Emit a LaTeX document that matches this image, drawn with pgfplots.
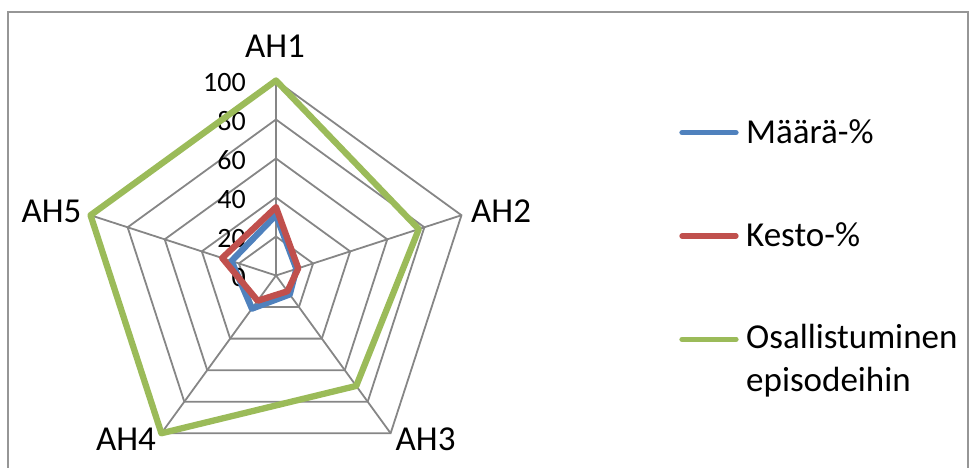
\documentclass[border=0pt]{standalone}
\usepackage{pgfplots}
\pgfplotsset{compat=1.18}
\usepackage{fontspec}
\setmainfont{Carlito}

\definecolor{serBlue}{RGB}{79,129,189}
\definecolor{serRed}{RGB}{192,80,77}
\definecolor{serGreen}{RGB}{155,187,89}
\definecolor{gridGray}{RGB}{134,134,134}
\definecolor{frameGray}{RGB}{150,150,150}

\newcommand{\labelfont}{\fontsize{35}{43}\selectfont}
\newcommand{\tickfont}{\fontsize{28}{33}\selectfont}

\begin{document}
\begin{tikzpicture}[x=1pt,y=1pt]
  % page area and chart frame (open at the bottom)
  \path[use as bounding box] (0,0) rectangle (969,-468);
  \draw[frameGray, line width=1.8pt] (8,-470) -- (8,-12) -- (968,-12) -- (968,-470);

  \begin{axis}[
    at={(276pt,-275.5pt)}, anchor=center,
    x=1.95pt, y=1.95pt,
    xmin=-110, xmax=110, ymin=-110, ymax=110,
    axis lines=none, ticks=none, clip=false,
  ]
    % pentagon rings every 20 units
    \pgfplotsinvokeforeach{20,40,60,80,100}{
      \addplot[gridGray, line width=1.8pt, data cs=polar, forget plot]
        coordinates {(90,#1) (18,#1) (-54,#1) (-126,#1) (162,#1) (90,#1)};
    }
    % spokes
    \pgfplotsinvokeforeach{90,18,-54,-126,162}{
      \addplot[gridGray, line width=1.8pt, data cs=polar, forget plot]
        coordinates {(#1,0) (#1,100)};
    }
    % radial scale labels
    \pgfplotsinvokeforeach{0,20,40,60,80,100}{
      \node[anchor=east, inner sep=0pt, font=\tickfont, yshift=-2pt]
        at (axis cs:-15.4,#1) {#1};
    }

    % series, order AH1, AH2, AH3, AH4, AH5
    \addplot[serBlue, line width=6.3pt, line join=round, line cap=round, data cs=polar]
      coordinates {(90,31) (18,11) (-54,12) (-126,21) (162,24) (90,31)};
    \addplot[serRed, line width=6.3pt, line join=round, line cap=round, data cs=polar]
      coordinates {(90,35) (18,12) (-54,10) (-126,16) (162,29) (90,35)};
    \addplot[serGreen, line width=6.3pt, line join=round, line cap=round, data cs=polar]
      coordinates {(90,100) (18,77) (-54,70) (-126,100) (162,100) (90,100)};
  \end{axis}

  % category labels
  \begin{scope}[every node/.style={inner sep=0pt, font=\labelfont}]
    \node[anchor=center] at (275,-46.7) {AH1};
    \node[anchor=west]   at (471,-211.5) {AH2};
    \node[anchor=west]   at (395.5,-439.5) {AH3};
    \node[anchor=east]   at (156,-439) {AH4};
    \node[anchor=east]   at (81.6,-211.5) {AH5};
  \end{scope}

  % legend
  \begin{scope}[every node/.style={inner sep=0pt, font=\labelfont, anchor=base west}]
    \draw[serBlue,  line width=5.3pt, line cap=round] (682,-132.7) -- (736,-132.7);
    \node at (746,-144) {Määrä-\%};
    \draw[serRed,   line width=5.3pt, line cap=round] (682,-236) -- (736,-236);
    \node at (746,-246) {Kesto-\%};
    \draw[serGreen, line width=5.3pt, line cap=round] (682,-339.3) -- (736,-339.3);
    \node at (746,-348.3) {Osallistuminen};
    \node at (746,-391.7) {episodeihin};
  \end{scope}
\end{tikzpicture}
\end{document}
